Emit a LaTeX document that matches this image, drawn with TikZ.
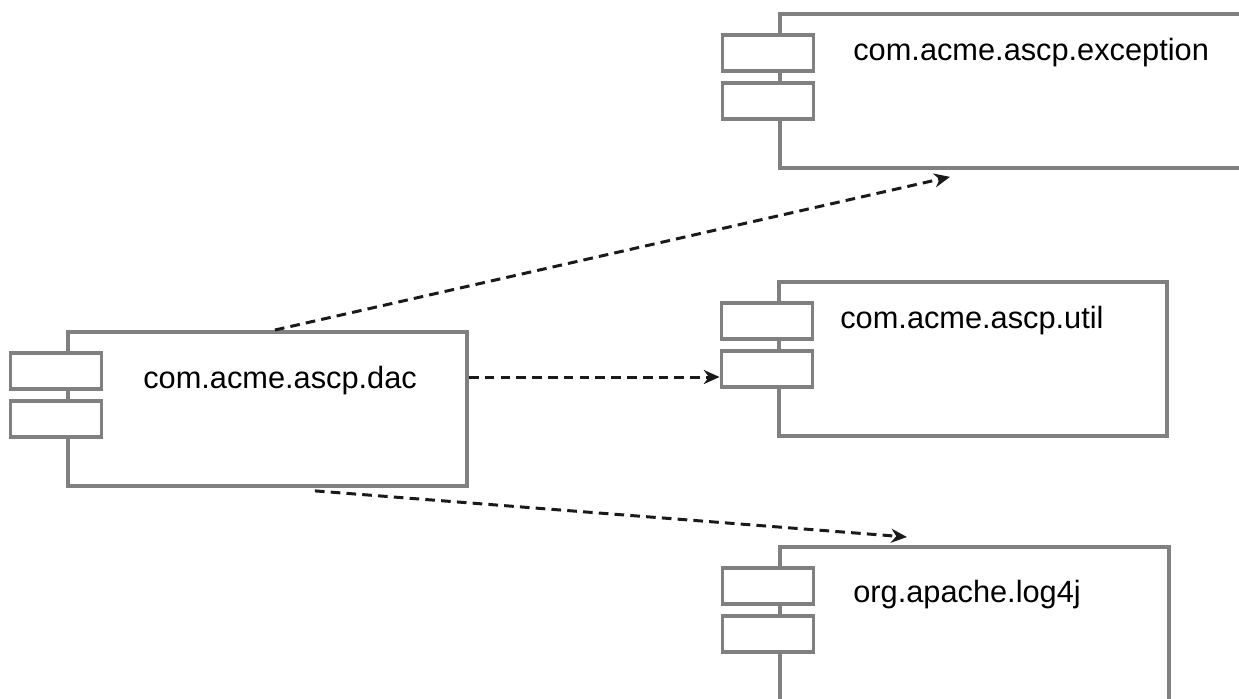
\documentclass[tikz,border=0pt]{standalone}
\usepackage{fontspec}
\setmainfont{Liberation Sans}
\usepackage{xcolor}
\usetikzlibrary{arrows.meta,positioning,calc}
\definecolor{frame}{HTML}{808080}
\definecolor{ink}{HTML}{1A1A1A}

\begin{document}
\begin{tikzpicture}[
  comp/.style={
    draw=frame, fill=white, line width=2.2pt,
    minimum height=3.08cm, inner sep=0pt, anchor=north west
  },
  tab/.style={
    draw=frame, fill=white, line width=2.2pt,
    minimum width=1.82cm, minimum height=0.72cm, inner sep=0pt
  },
  lbl/.style={anchor=base west, inner sep=0pt, font=\fontsize{17.5}{21}\selectfont},
  dep/.style={-{Stealth[length=9pt,width=8pt]}, ink, line width=1.7pt,
    dash pattern=on 5.5pt off 3.5pt}
]
  \useasboundingbox (0,0) rectangle (24.78,-13.96);

  % Package bodies
  \node[comp, minimum width=7.98cm] (dac)  at (1.32, -6.60)  {};
  \node[comp, minimum width=9.30cm] (exc)  at (15.56,-0.24)  {};
  \node[comp, minimum width=7.76cm] (util) at (15.54,-5.60)  {};
  \node[comp, minimum width=7.78cm] (log)  at (15.56,-10.90) {};

  % Component tabs on the left edge
  \node[tab] (dacA)  at ($(dac.north west)+(-0.2,-0.82)$)  {};
  \node[tab] (dacB)  at ($(dac.north west)+(-0.2,-1.78)$)  {};
  \node[tab] (excA)  at ($(exc.north west)+(-0.2,-0.82)$)  {};
  \node[tab] (excB)  at ($(exc.north west)+(-0.2,-1.78)$)  {};
  \node[tab] (utilA) at ($(util.north west)+(-0.2,-0.82)$) {};
  \node[tab] (utilB) at ($(util.north west)+(-0.2,-1.78)$) {};
  \node[tab] (logA)  at ($(log.north west)+(-0.2,-0.82)$)  {};
  \node[tab] (logB)  at ($(log.north west)+(-0.2,-1.78)$)  {};

  % Package names
  \node[lbl] (dacT)  at ($(dac.north west)+(1.54,-1.16)$)  {com.acme.ascp.dac};
  \node[lbl] (excT)  at ($(exc.north west)+(1.50,-0.96)$)  {com.acme.ascp.exception};
  \node[lbl] (utilT) at ($(util.north west)+(1.26,-0.96)$) {com.acme.ascp.util};
  \node[lbl] (logT)  at ($(log.north west)+(1.50,-1.14)$)  {org.apache.log4j};

  % Dependencies
  \coordinate (utilIn) at ([yshift=-0.16cm]utilB.west);
  \draw[dep] ([xshift=0.15cm]dac.north) -- ([xshift=-1.25cm,yshift=-0.14cm]exc.south);
  \draw[dep] (dac.east |- utilIn) -- (utilIn);
  \draw[dep] ([xshift=0.95cm,yshift=-0.06cm]dac.south)
    -- ([xshift=-1.35cm,yshift=0.16cm]log.north);
\end{tikzpicture}
\end{document}
